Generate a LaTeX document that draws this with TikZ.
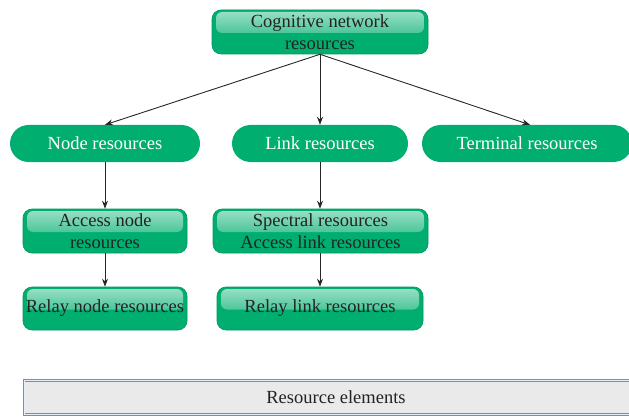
\documentclass[tikz,border=0pt]{standalone}
\usepackage{fontspec}
\setmainfont{Liberation Serif}
\usetikzlibrary{arrows.meta}
\definecolor{boxgreen}{RGB}{0,174,112}
\definecolor{boxedge}{RGB}{0,150,95}
\definecolor{inkdark}{RGB}{35,35,35}
\definecolor{frameblue}{RGB}{90,150,215}
\definecolor{panelgray}{RGB}{234,234,234}
\tikzset{
  base/.style={inner sep=0pt, align=center, font=\fontsize{18.5}{22}\selectfont},
  pill/.style={base, fill=boxgreen, text=white, minimum height=37pt, rounded corners=18.5pt},
  glossy/.style={base, fill=boxgreen, draw=boxedge, line width=0.6pt, text=inkdark,
    rounded corners=9pt,
    path picture={
      \fill[top color=white!62!boxgreen, bottom color=boxgreen, rounded corners=6pt]
        ([xshift=4pt,yshift=-2pt]path picture bounding box.north west) rectangle
        ([xshift=-4pt,yshift=-1pt]path picture bounding box.east);
    }},
  link/.style={draw=black!85, line width=0.9pt, -{Stealth[length=8pt,width=6pt]}},
  panel/.style={base, fill=panelgray, draw=frameblue, double=white!85!frameblue,
    double distance=1pt, line width=0.6pt, text=inkdark}
}
\begin{document}
\begin{tikzpicture}[x=1pt,y=-1pt]
\useasboundingbox (0,0) rectangle (629,417);
\begin{scope}
\clip (0,0) rectangle (629,417);
% top level
\node[glossy, minimum width=216pt, minimum height=44pt] (cog) at (320,32)
  {Cognitive network\\resources};
% second level
\node[pill, minimum width=190pt] (noderes) at (105,143.5) {Node resources};
\node[pill, minimum width=176pt] (linkres) at (320,143.5) {Link resources};
\node[pill, minimum width=210pt] (termres) at (527,143.5) {Terminal resources};
% third level
\node[glossy, minimum width=164pt, minimum height=44pt] (accnode) at (105,231)
  {Access node\\resources};
\node[glossy, minimum width=215pt, minimum height=44pt] (acclink) at (320.5,231)
  {Spectral resources\\Access link resources};
% fourth level
\node[glossy, minimum width=164pt, minimum height=43pt] (relnode) at (105,308.5)
  {Relay node resources};
\node[glossy, minimum width=206pt, minimum height=43pt] (rellink) at (320,308.5)
  {Relay link resources};
% bottom panel
\node[panel, minimum width=624pt, minimum height=34pt] (elems) at (336,397.5)
  {Resource elements};
% connectors
\draw[link] (cog.south) -- (noderes.north);
\draw[link] (cog.south) -- (linkres.north);
\draw[link] (cog.south) -- ([xshift=3pt]termres.north);
\draw[link] (noderes.south) -- (accnode.north);
\draw[link] (accnode.south) -- (relnode.north);
\draw[link] (linkres.south) -- (acclink.north -| linkres.south);
\draw[link] (acclink.south -| linkres.south) -- (rellink.north -| linkres.south);
\end{scope}
\end{tikzpicture}
\end{document}
